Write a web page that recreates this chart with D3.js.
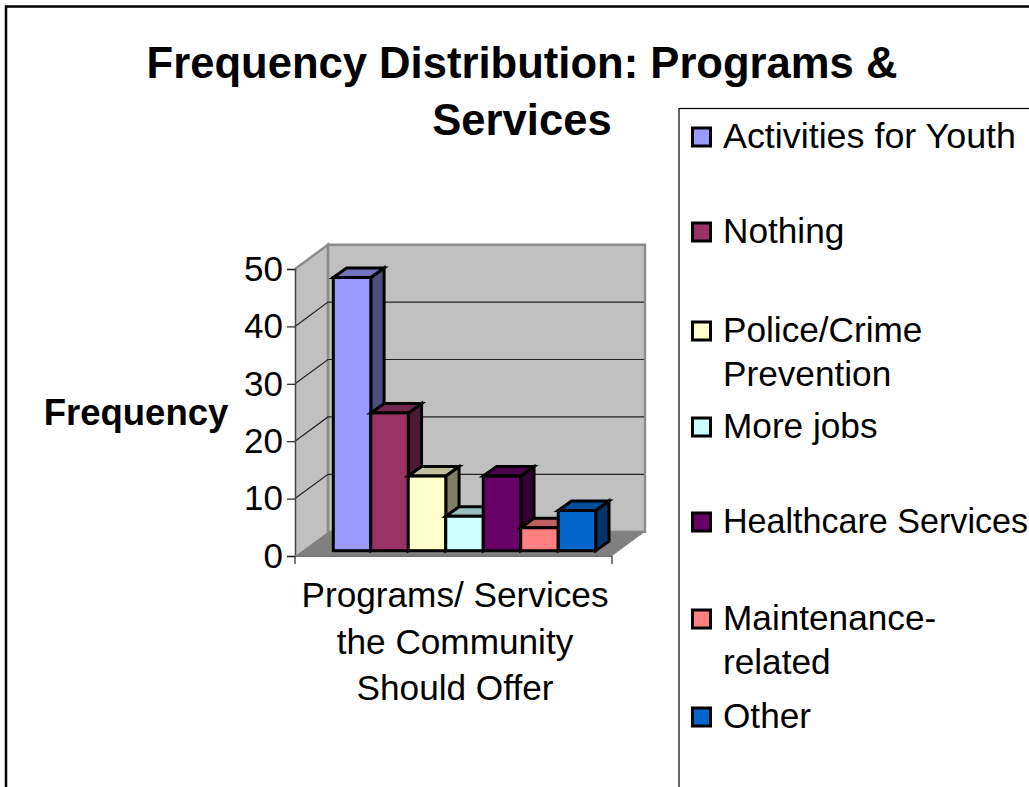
<!DOCTYPE html>
<html><head><meta charset="utf-8">
<script src="https://cdn.jsdelivr.net/npm/d3@7"></script>
<style>html,body{margin:0;padding:0;background:#fff;overflow:hidden}svg{display:block}text{font-family:"Liberation Sans",Arial,sans-serif;fill:#000}</style>
</head><body><svg id="c" width="1029" height="787"></svg>
<script>
const categories=["Activities for Youth","Nothing","Police/Crime Prevention","More jobs","Healthcare Services","Maintenance-related","Other"];
const values=[47.6,24,13,6,13,4,7];
const colors=["#9999FF","#993366","#FFFFCC","#CCFFFF","#660066","#FF8080","#0066CC"];
const yTicks=[0,10,20,30,40,50];
const titleLines=["Frequency Distribution: Programs &","Services"];
const xTitleLines=["Programs/ Services","the Community","Should Offer"];
const legendLines=[["Activities for Youth"],["Nothing"],["Police/Crime","Prevention"],["More jobs"],["Healthcare Services"],["Maintenance-","related"],["Other"]];
const legendRows=[137,232,331,427,522,619,717];

const svg=d3.select("#c");
const line=d3.line();
const y=d3.scaleLinear().domain([0,50]).range([556,269]);
const x=d3.scaleBand().domain(categories).range([333.3,595.7]).padding(0);
const wallDx=33,wallDy=-24.3,frontL=295,frontR=612;
const barDx=13.3,barDy=-9.5,barLift=-5.3;

svg.append("rect").attr("x",6).attr("y",6.5).attr("width",1100).attr("height",900).attr("fill","#fff").attr("stroke","#000").attr("stroke-width",2.5);

// walls and floor
const y0=y(0),y50=y(50);
svg.append("path").attr("d",line([[frontL,y0],[frontL,y50],[frontL+wallDx,y50+wallDy],[frontL+wallDx,y0+wallDy]])+"Z").attr("fill","#C0C0C0");
svg.append("path").attr("d",line([[frontL+wallDx,y0+wallDy],[frontL+wallDx,y50+wallDy],[frontR+wallDx,y50+wallDy],[frontR+wallDx,y0+wallDy]])+"Z").attr("fill","#C0C0C0").attr("stroke","#8c8c8c").attr("stroke-width",2.4);
svg.append("path").attr("d",line([[frontL,y0],[frontL+wallDx,y0+wallDy],[frontR+wallDx,y0+wallDy],[frontR,y0]])+"Z").attr("fill","#808080");
svg.append("path").attr("d",line([[frontL,y50],[frontL+wallDx,y50+wallDy],[frontL+wallDx,y0+wallDy]])).attr("fill","none").attr("stroke","#8c8c8c").attr("stroke-width",2.4);

// gridlines
yTicks.filter(t=>t>0&&t<50).forEach(t=>{
  svg.append("path").attr("d",line([[frontL,y(t)],[frontL+wallDx,y(t)+wallDy],[frontR+wallDx-1,y(t)+wallDy]])).attr("fill","none").attr("stroke","#222").attr("stroke-width",1.2);
});

// axes
const axisG=svg.append("g").attr("transform",`translate(${frontL},0)`).call(d3.axisLeft(y).tickValues(yTicks).tickSize(8).tickPadding(4).tickFormat(d3.format("d")));
axisG.select(".domain").attr("stroke","#444").attr("stroke-width",1.5);
axisG.selectAll(".tick line").attr("stroke","#222").attr("stroke-width",1.2);
axisG.selectAll(".tick text").attr("font-size",35).attr("font-family","Liberation Sans").attr("fill","#000");
svg.append("path").attr("d",line([[frontL,y0],[frontR,y0]])).attr("stroke","#777").attr("stroke-width",2);
[frontL,frontR].forEach(px=>svg.append("path").attr("d",line([[px,y0],[px,y0+8]])).attr("stroke","#222").attr("stroke-width",1.2));

// bars
const scaled=(c,k)=>{const q=d3.rgb(c);return d3.rgb(q.r*k,q.g*k,q.b*k);};
const bars=svg.append("g").attr("stroke","#000").attr("stroke-width",3).attr("stroke-linejoin","miter");
categories.forEach((c,i)=>{
  const l=x(c),r=l+x.bandwidth(),t=y(values[i])+barLift,b=y(0)+barLift;
  const g=bars.append("g");
  g.append("path").attr("d",line([[r,t],[r+barDx,t+barDy],[r+barDx,b+barDy],[r,b]])+"Z").attr("fill",scaled(colors[i],.5));
  g.append("path").attr("d",line([[l,t],[l+barDx,t+barDy],[r+barDx,t+barDy],[r,t]])+"Z").attr("fill",scaled(colors[i],.75));
  g.append("rect").attr("x",l).attr("y",t).attr("width",r-l).attr("height",b-t).attr("fill",colors[i]);
});

// title
titleLines.forEach((s,i)=>svg.append("text").attr("x",522).attr("y",78+i*57).attr("text-anchor","middle").attr("font-weight","bold").attr("font-size",43.6).text(s));
// axis titles
svg.append("text").attr("x",136).attr("y",425).attr("text-anchor","middle").attr("font-weight","bold").attr("font-size",36.5).text("Frequency");
xTitleLines.forEach((s,i)=>svg.append("text").attr("x",455).attr("y",607+i*46.5).attr("text-anchor","middle").attr("font-size",35.2).text(s));

// legend
svg.append("rect").attr("x",679).attr("y",108.5).attr("width",500).attr("height",800).attr("fill","#fff").attr("stroke","#000").attr("stroke-width",1.2);
const fitted={"Activities for Youth":293,"Healthcare Services":305};
categories.forEach((c,i)=>{
  const cy=legendRows[i];
  svg.append("rect").attr("x",692.5).attr("y",cy-9).attr("width",18).attr("height",18).attr("fill",colors[i]).attr("stroke","#000").attr("stroke-width",3);
  legendLines[i].forEach((s,j)=>{
    const t=svg.append("text").attr("x",723).attr("y",cy+11+j*43.5).attr("font-size",35.2).text(s);
    if(fitted[s]) t.attr("textLength",fitted[s]).attr("lengthAdjust","spacingAndGlyphs");
  });
});
</script></body></html>
